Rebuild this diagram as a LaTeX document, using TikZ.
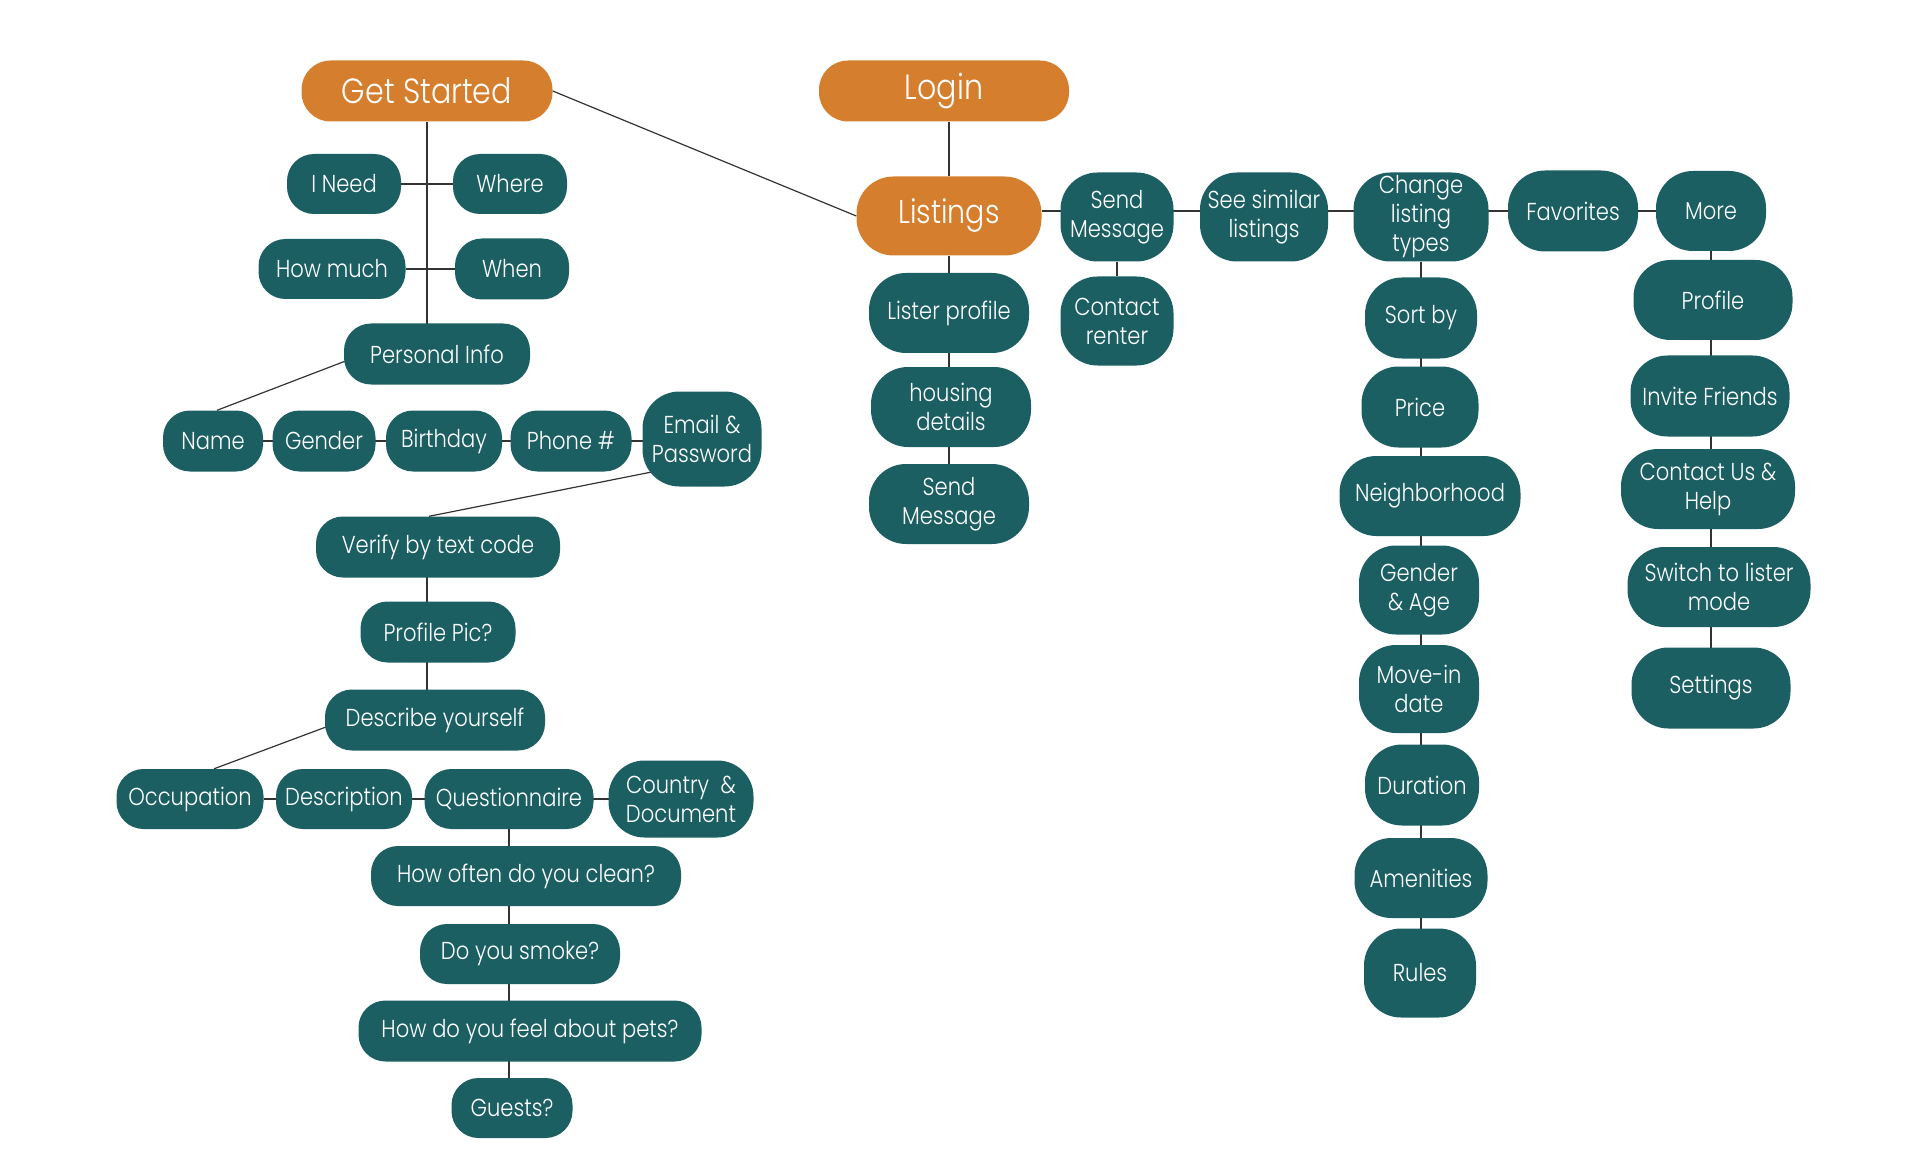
\documentclass[tikz,border=0pt]{standalone}
\usepackage{fontspec}
\setmainfont{Poppins}[UprightFont=* Light, FakeStretch=0.86]
\usepackage{xcolor}
\usetikzlibrary{backgrounds}
\definecolor{tealbox}{HTML}{1B5F63}
\definecolor{orangebox}{HTML}{D57F2E}

\begin{document}
\begin{tikzpicture}[x=1pt, y=-1pt, -,
  wh/.style 2 args={minimum width=#1pt, minimum height=#2pt},
  main node/.style={fill=orangebox, text=white, inner sep=0pt, rounded corners=29pt, font=\fontsize{35}{40}\selectfont},
  sub node/.style={fill=tealbox, text=white, inner sep=0pt, align=center, rounded corners=27pt, font=\fontsize{24.5}{29}\selectfont},
  tall node/.style={sub node, rounded corners=37pt},
  line/.style={color=black!80, line width=1.2pt}]
\useasboundingbox (0,0) rectangle (1920,1158);

\node[main node, wh={251}{61}] (start) at (427,91) {Get Started};
\node[main node, wh={250}{61}] (login) at (944,91) {Login};
\node[main node, rounded corners=37pt, wh={185}{79}, font=\fontsize{33}{38}\selectfont] (listings) at (949,216) {Listings};

% sign up
\node[sub node, wh={114}{60}] (ineed) at (344,184) {I Need};
\node[sub node, wh={114}{60}] (where) at (510,184) {Where};
\node[sub node, wh={147}{60}] (howmuch) at (332,269) {How much};
\node[sub node, wh={114}{61}] (when) at (512,269) {When};
\node[sub node, wh={186}{61}] (pinfo) at (437,354) {Personal Info};
\node[sub node, wh={100}{61}] (name) at (213,441) {Name};
\node[sub node, wh={103}{61}] (gender) at (324,441) {Gender};
\node[sub node, wh={116}{61}] (birthday) at (444,441) {Birthday};
\node[sub node, wh={121}{61}] (phone) at (571,441) {Phone \#};
\node[tall node, wh={119}{95}] (email) at (702,439) {Email \&\\Password};
\node[sub node, wh={244}{61}] (verify) at (438,547) {Verify by text code};
\node[sub node, wh={155}{61}] (pic) at (438,632) {Profile Pic?};
\node[sub node, wh={220}{61}] (describe) at (435,720) {Describe yourself};
\node[sub node, wh={147}{60}] (occupation) at (190,799) {Occupation};
\node[sub node, wh={136}{60}] (description) at (344,799) {Description};
\node[sub node, wh={169}{60}] (quest) at (509,799) {Questionnaire};
\node[tall node, rounded corners=36pt, wh={145}{77}] (country) at (681,799) {Country \ \&\\Document};
\node[sub node, wh={310}{60}] (clean) at (526,876) {How often do you clean?};
\node[sub node, wh={200}{60}] (smoke) at (520,954) {Do you smoke?};
\node[sub node, wh={343}{61}] (pets) at (530,1031) {How do you feel about pets?};
\node[sub node, wh={121}{60}] (guests) at (512,1108) {Guests?};

% listings
\node[tall node, wh={160}{80}] (lister) at (949,313) {Lister profile};
\node[tall node, wh={160}{80}] (housing) at (951,407) {housing\\details};
\node[tall node, wh={160}{80}] (sendmsg) at (949,504) {Send\\Message};
\node[tall node, wh={113}{89}] (send) at (1117,217) {Send\\Message};
\node[tall node, wh={113}{89}] (contact) at (1117,321) {Contact\\renter};
\node[tall node, wh={128}{89}] (similar) at (1264,217) {See similar\\listings};
\node[tall node, wh={135}{89}] (change) at (1421,217) {Change\\listing\\types};
\node[tall node, wh={130}{81}] (favorites) at (1573,211) {Favorites};
\node[tall node, wh={110}{80}] (more) at (1711,211) {More};

\node[tall node, wh={112}{81}] (sortby) at (1421,318) {Sort by};
\node[tall node, wh={117}{81}] (price) at (1420,407) {Price};
\node[tall node, wh={181}{80}] (neigh) at (1430,496) {Neighborhood};
\node[tall node, wh={120}{89}] (genage) at (1419,590) {Gender\\\& Age};
\node[tall node, wh={120}{88}] (movein) at (1419,689) {Move-in\\date};
\node[tall node, wh={114}{81}] (duration) at (1422,785) {Duration};
\node[tall node, wh={133}{80}] (amenities) at (1421,878) {Amenities};
\node[tall node, wh={112}{89}] (rules) at (1420,973) {Rules};

\node[tall node, wh={159}{80}] (profile) at (1713,300) {Profile};
\node[tall node, wh={159}{81}] (invite) at (1710,396) {Invite Friends};
\node[tall node, wh={174}{80}] (contactus) at (1708,489) {Contact Us \&\\Help};
\node[tall node, wh={183}{80}] (switch) at (1719,587) {Switch to lister\\mode};
\node[tall node, wh={159}{81}] (settings) at (1711,688) {Settings};

\begin{pgfonlayer}{background}
\path[line]
(start.east) edge (listings.west)
(login.south -| listings) edge (listings)
(start.south) edge (start.south |- pinfo.center)
(ineed) edge (where)
(howmuch) edge (when)
([xshift=20pt]pinfo.west) edge ([xshift=4pt]name.north)
(name) edge (name -| email)
([yshift=-23pt]email.center) edge ([xshift=-9pt]verify.north)
(start.south |- verify.center) edge (start.south |- describe.center)
([xshift=20pt]describe.west) edge ([xshift=24pt]occupation.north)
(occupation) edge (occupation -| country)
(quest) edge (quest |- guests)
(listings) edge (listings |- sendmsg)
(listings.east |- more) edge (more)
(send) edge (contact)
(change) edge (change |- rules)
(more) edge (more |- settings);
\end{pgfonlayer}
\end{tikzpicture}
\end{document}
